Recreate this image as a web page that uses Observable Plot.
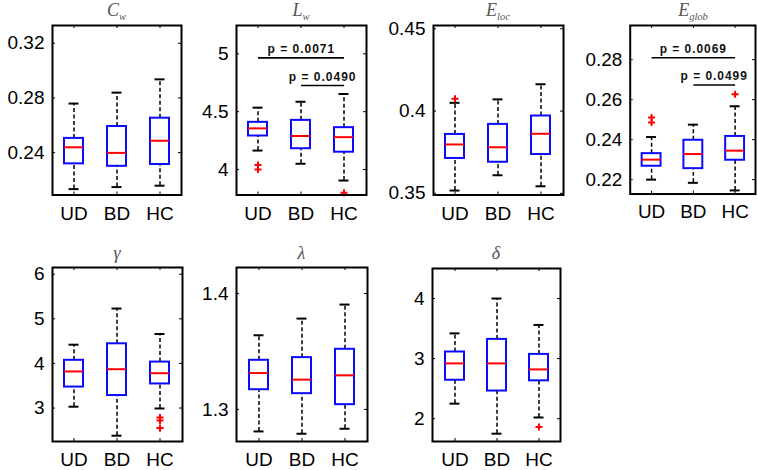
<!DOCTYPE html>
<html><head><meta charset="utf-8">
<script src="https://cdn.jsdelivr.net/npm/d3@7"></script>
<script src="https://cdn.jsdelivr.net/npm/@observablehq/plot@0.6"></script>
<style>
body{margin:0;background:#fff;}
#chart{position:relative;width:757px;height:470px;overflow:hidden;background:#fff;font-family:"Liberation Sans",Arial,sans-serif;}
.panel{position:absolute;}
.title{position:absolute;width:120px;font-family:"Liberation Serif","DejaVu Serif",serif;font-style:italic;font-size:18px;color:#555;text-align:center;line-height:20px;white-space:nowrap;}
.title sub{font-size:10.5px;vertical-align:-4px;line-height:0;}
</style></head>
<body><div id="chart"></div>
<script>
const groups = ["UD", "BD", "HC"];
// five-number summaries per group: [lower whisker, Q1, median, Q3, upper whisker]
const cwStats = [[0.2133, 0.2318, 0.2439, 0.2504, 0.2759], [0.2148, 0.2300, 0.2398, 0.2591, 0.2839], [0.2158, 0.2313, 0.2487, 0.2652, 0.2936]];
const lwStats = [[4.164, 4.290, 4.356, 4.408, 4.535], [4.050, 4.180, 4.290, 4.425, 4.586], [3.905, 4.150, 4.280, 4.362, 4.653]];
const elocStats = [[0.3517, 0.3712, 0.3797, 0.3858, 0.4050], [0.3610, 0.3689, 0.3780, 0.3919, 0.4071], [0.3543, 0.3736, 0.3862, 0.3970, 0.4163]];
const eglobStats = [[0.2200, 0.2267, 0.2300, 0.2330, 0.2413], [0.2184, 0.2255, 0.2328, 0.2397, 0.2475], [0.2146, 0.2297, 0.2345, 0.2416, 0.2567]];
const gammaStats = [[3.03, 3.47, 3.82, 4.07, 4.42], [2.38, 3.28, 3.87, 4.44, 5.23], [2.99, 3.54, 3.78, 4.03, 4.66]];
const lambdaStats = [[1.2810, 1.3170, 1.3314, 1.3424, 1.3640], [1.2790, 1.3136, 1.3257, 1.3447, 1.3784], [1.2833, 1.3041, 1.3294, 1.3519, 1.3905]];
const deltaStats = [[2.25, 2.64, 2.92, 3.11, 3.42], [1.75, 2.46, 2.92, 3.32, 4.00], [2.02, 2.63, 2.82, 3.07, 3.56]];

// outliers: [group, value]
const cwOut = [];
const lwOut = [["UD", 4.04], ["UD", 4.00], ["HC", 3.80]];
const elocOut = [["UD", 0.4075]];
const eglobOut = [["UD", 0.2511], ["UD", 0.2486], ["HC", 0.2627]];
const gammaOut = [["HC", 2.79], ["HC", 2.72], ["HC", 2.55]];
const lambdaOut = [];
const deltaOut = [["HC", 1.86]];

// significance bars: [from group, to group, value level, label]
const lwP = [["UD", "HC", 4.965, "p = 0.0071"], ["BD", "HC", 4.726, "p = 0.0490"]];
const eglobP = [["UD", "HC", 0.2810, "p = 0.0069"], ["BD", "HC", 0.2673, "p = 0.0499"]];

// y tick values and y domains
const cwTicks = [0.24, 0.28, 0.32];
const lwTicks = [4, 4.5, 5];
const elocTicks = [0.35, 0.4, 0.45];
const eglobTicks = [0.22, 0.24, 0.26, 0.28];
const gammaTicks = [3, 4, 5, 6];
const lambdaTicks = [1.3, 1.4];
const deltaTicks = [2, 3, 4];

const cwDomain = [0.209, 0.333];
const lwDomain = [3.78, 5.245];
const elocDomain = [0.349, 0.452];
const eglobDomain = [0.2128, 0.2971];
const gammaDomain = [2.25, 6.15];
const lambdaDomain = [1.2723, 1.4225];
const deltaDomain = [1.62, 4.5];

// layout: frame [left, right, top, bottom] in page pixels
const panels = [
  {stats: cwStats, out: cwOut, pv: [], ticks: cwTicks, domain: cwDomain, title: "C<sub>w</sub>", frame: [52, 181, 25, 194.5], titleTop: 0},
  {stats: lwStats, out: lwOut, pv: lwP, ticks: lwTicks, domain: lwDomain, title: "L<sub>w</sub>", frame: [236, 366, 25, 194.5], titleTop: 0},
  {stats: elocStats, out: elocOut, pv: [], ticks: elocTicks, domain: elocDomain, title: "E<sub>loc</sub>", frame: [433, 563, 25, 194.5], titleTop: 0},
  {stats: eglobStats, out: eglobOut, pv: eglobP, ticks: eglobTicks, domain: eglobDomain, title: "E<sub>glob</sub>", frame: [630, 756, 25, 194.5], titleTop: 0},
  {stats: gammaStats, out: gammaOut, pv: [], ticks: gammaTicks, domain: gammaDomain, title: "γ", frame: [52, 182, 267, 441], titleTop: 243},
  {stats: lambdaStats, out: lambdaOut, pv: [], ticks: lambdaTicks, domain: lambdaDomain, title: "λ", frame: [236, 367, 267, 441], titleTop: 243},
  {stats: deltaStats, out: deltaOut, pv: [], ticks: deltaTicks, domain: deltaDomain, title: "δ", frame: [432, 560, 268, 441], titleTop: 243}
];

const chart = document.getElementById("chart");
const BLUE = "#0a0aff", RED = "#ff0000";

function makePanel(cfg) {
  const [fl, fr, ft, fb] = cfg.frame;
  const mL = 52, mR = 2, mT = 3, mB = 34;
  const fw = fr - fl, fh = fb - ft;
  const rows = groups.map((g, i) => {
    const [lo, q1, med, q3, hi] = cfg.stats[i];
    return {group: g, lo, q1, med, q3, hi};
  });
  const step = fw / groups.length;
  const pvMarks = cfg.pv.flatMap(p => [
    Plot.link([p], {x1: d => d[0], x2: d => d[1], y1: d => d[2], y2: d => d[2], stroke: "black", strokeWidth: 1.6}),
    Plot.text([p], {x: d => d[0], y: d => d[2], text: d => d[3], fontSize: 12, fontWeight: "bold", fill: "#111",
      lineAnchor: "bottom", dy: -5, dx: (groups.indexOf(p[1]) - groups.indexOf(p[0])) * step / 2})
  ]);
  const plot = Plot.plot({
    width: fw + mL + mR, height: fh + mT + mB,
    marginLeft: mL, marginRight: mR, marginTop: mT, marginBottom: mB,
    style: {background: "transparent", fontFamily: "Liberation Sans, Arial, sans-serif", color: "#000", overflow: "visible"},
    x: {type: "band", domain: groups, paddingInner: 0.558, paddingOuter: 0.279, label: null},
    y: {domain: cfg.domain, label: null},
    marks: [
      Plot.axisX({tickSize: 0, tickPadding: 11, fontSize: 19, label: null}),
      Plot.axisY({ticks: cfg.ticks, tickFormat: d => String(d), tickSize: 0, tickPadding: 8, fontSize: 19, label: null}),
      Plot.tickY(cfg.ticks, {y: d => d, insetRight: fw - 3, stroke: "black"}),
      Plot.tickY(cfg.ticks, {y: d => d, insetLeft: fw - 3, stroke: "black"}),
      Plot.tickX(groups, {x: d => d, insetTop: fh - 3, stroke: "black"}),
      Plot.tickX(groups, {x: d => d, insetBottom: fh - 3, stroke: "black"}),
      Plot.ruleX(rows, {x: "group", y1: "q3", y2: "hi", stroke: "black", strokeWidth: 1.5, strokeDasharray: "4,2.5"}),
      Plot.ruleX(rows, {x: "group", y1: "lo", y2: "q1", stroke: "black", strokeWidth: 1.5, strokeDasharray: "4,2.5"}),
      Plot.tickY(rows, {x: "group", y: "hi", insetLeft: 4.5, insetRight: 4.5, stroke: "black", strokeWidth: 2}),
      Plot.tickY(rows, {x: "group", y: "lo", insetLeft: 4.5, insetRight: 4.5, stroke: "black", strokeWidth: 2}),
      Plot.barY(rows, {x: "group", y1: "q1", y2: "q3", fill: "white", stroke: BLUE, strokeWidth: 2}),
      Plot.tickY(rows, {x: "group", y: "med", stroke: RED, strokeWidth: 2}),
      Plot.dot(cfg.out, {x: d => d[0], y: d => d[1], symbol: "plus", r: 2.4, stroke: RED, strokeWidth: 2}),
      ...pvMarks,
      Plot.frame({stroke: "black", strokeWidth: 2})
    ]
  });
  d3.select(plot).selectAll("g[font-weight=bold] text").style("letter-spacing", "1px");
  const wrap = document.createElement("div");
  wrap.className = "panel";
  wrap.style.left = (fl - mL) + "px";
  wrap.style.top = (ft - mT) + "px";
  wrap.appendChild(plot);
  chart.appendChild(wrap);
  const t = document.createElement("div");
  t.className = "title";
  t.innerHTML = cfg.title;
  t.style.left = ((fl + fr) / 2 - 60) + "px";
  t.style.top = cfg.titleTop + "px";
  chart.appendChild(t);
}
panels.forEach(makePanel);
</script>
</body></html>
